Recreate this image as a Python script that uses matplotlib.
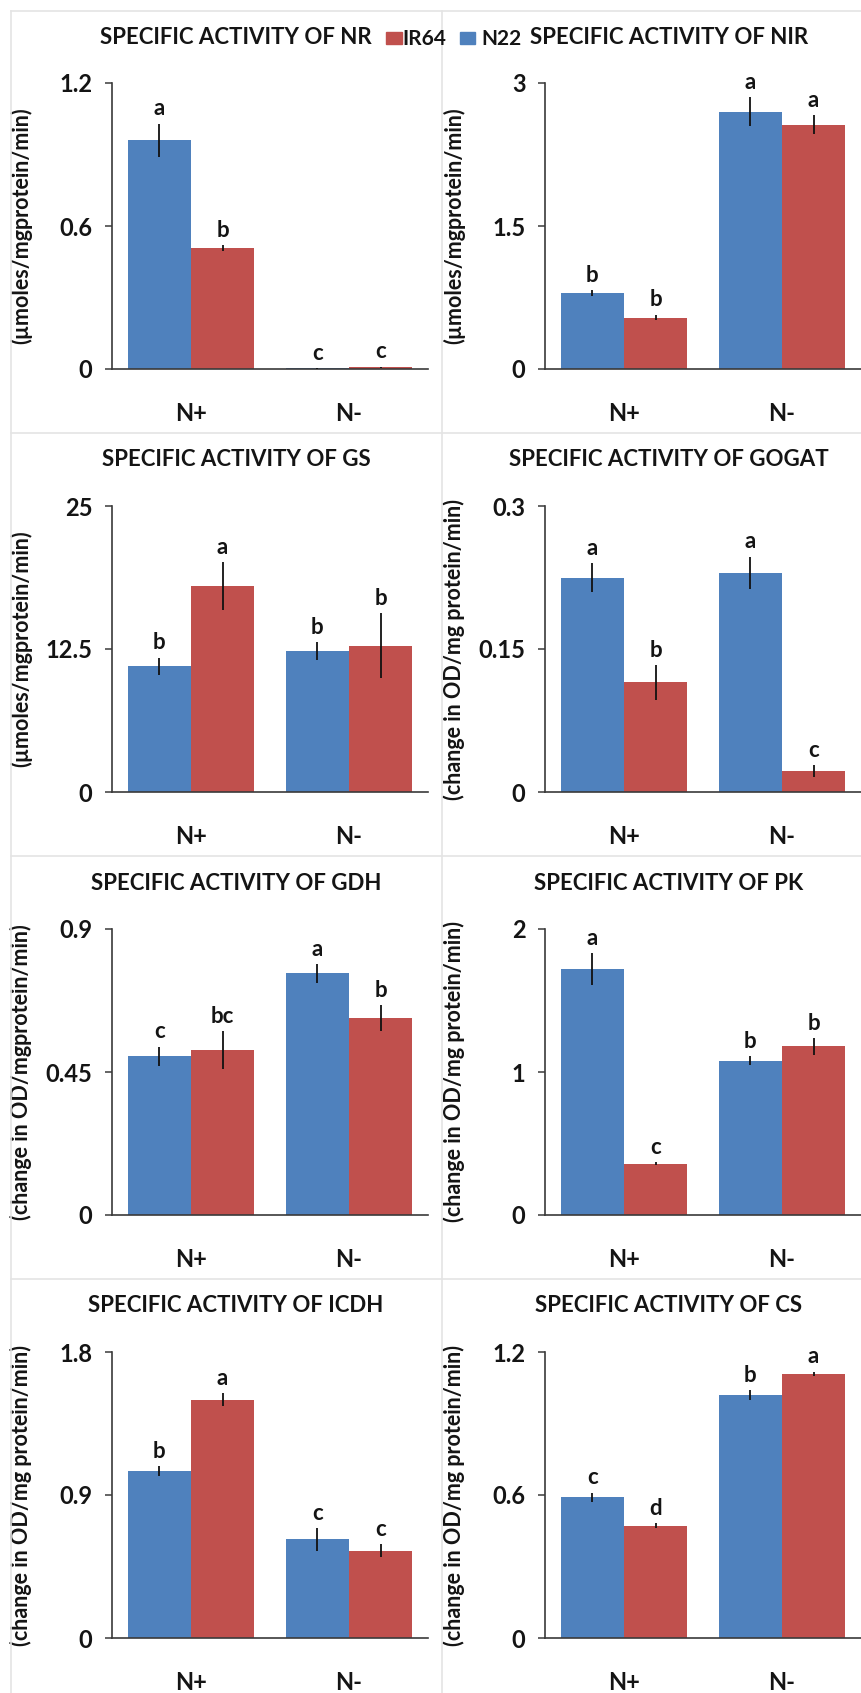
import numpy as np
import matplotlib.pyplot as plt
from matplotlib.lines import Line2D
from matplotlib.patches import Rectangle

plt.rcParams['font.family'] = ['Lato', 'DejaVu Sans']
plt.rcParams['font.weight'] = 'bold'

W, H = 862, 1693

categories = ['N+', 'N-']

titles = ['SPECIFIC ACTIVITY OF NR', 'SPECIFIC ACTIVITY OF NIR',
          'SPECIFIC ACTIVITY OF GS', 'SPECIFIC ACTIVITY OF GOGAT',
          'SPECIFIC ACTIVITY OF GDH', 'SPECIFIC ACTIVITY OF PK',
          'SPECIFIC ACTIVITY OF ICDH', 'SPECIFIC ACTIVITY OF CS']

ylabels = ['(µmoles/mgprotein/min)', '(µmoles/mgprotein/min)',
           '(µmoles/mgprotein/min)', '(change in OD/mg protein/min)',
           '(change in OD/mgprotein/min)', '(change in OD/mg protein/min)',
           '(change in OD/mg protein/min)', '(change in OD/mg protein/min)']

yticks = [[0, 0.6, 1.2], [0, 1.5, 3], [0, 12.5, 25], [0, 0.15, 0.3],
          [0, 0.45, 0.9], [0, 1, 2], [0, 0.9, 1.8], [0, 0.6, 1.2]]
ytick_labels = [['0', '0.6', '1.2'], ['0', '1.5', '3'], ['0', '12.5', '25'],
                ['0', '0.15', '0.3'], ['0', '0.45', '0.9'], ['0', '1', '2'],
                ['0', '0.9', '1.8'], ['0', '0.6', '1.2']]

# N22 (blue) and IR64 (red) means for N+ / N-
n22 = [[0.96, 0.003], [0.80, 2.70], [10.98, 12.31], [0.225, 0.23],
       [0.50, 0.76], [1.72, 1.08], [1.05, 0.62], [0.59, 1.02]]
n22_err = [[0.07, 0.002], [0.03, 0.15], [0.77, 0.77], [0.015, 0.017],
           [0.03, 0.03], [0.11, 0.03], [0.03, 0.07], [0.02, 0.02]]
ir64 = [[0.508, 0.008], [0.54, 2.56], [18.03, 12.8], [0.115, 0.022],
        [0.52, 0.62], [0.36, 1.18], [1.50, 0.55], [0.471, 1.108]]
ir64_err = [[0.013, 0.002], [0.03, 0.10], [2.1, 2.87], [0.018, 0.006],
            [0.06, 0.04], [0.01, 0.06], [0.04, 0.04], [0.01, 0.01]]
n22_letters = [['a', 'c'], ['b', 'a'], ['b', 'b'], ['a', 'a'],
               ['c', 'a'], ['a', 'b'], ['b', 'c'], ['c', 'b']]
ir64_letters = [['b', 'c'], ['b', 'a'], ['a', 'b'], ['b', 'c'],
                ['bc', 'b'], ['c', 'b'], ['a', 'c'], ['d', 'a']]

blue = '#4F81BD'
red = '#C0504D'
axis_col = '#3a3a3a'
txt_col = '#141414'

fig = plt.figure(figsize=(W / 100, H / 100), dpi=100)

# light grey panel frame
grid_col = '#e4e4e4'
for y in [11, 433, 856, 1279]:
    fig.add_artist(Line2D([11 / W, 1], [1 - y / H, 1 - y / H], color=grid_col, lw=1.2))
for x in [11, 442]:
    fig.add_artist(Line2D([x / W, x / W], [0, 1 - 11 / H], color=grid_col, lw=1.2))

x = np.arange(len(categories))
bw = 0.4

for i in range(8):
    r, c = divmod(i, 2)
    left = 112 + 433 * c
    top = 83 + 423 * r
    ax = fig.add_axes([left / W, 1 - (top + 286) / H, 316 / W, 286 / H])

    ax.bar(x - bw / 2, n22[i], bw, color=blue, zorder=2)
    ax.bar(x + bw / 2, ir64[i], bw, color=red, zorder=2)
    ax.errorbar(x - bw / 2, n22[i], yerr=n22_err[i], fmt='none',
                ecolor='#111111', elinewidth=1.3, capsize=0, zorder=3)
    ax.errorbar(x + bw / 2, ir64[i], yerr=ir64_err[i], fmt='none',
                ecolor='#111111', elinewidth=1.3, capsize=0, zorder=3)

    for j in range(len(categories)):
        ax.annotate(n22_letters[i][j], (x[j] - bw / 2, n22[i][j] + n22_err[i][j]),
                    xytext=(0, 3), textcoords='offset points', color=txt_col,
                    ha='center', va='bottom', fontsize=16, fontweight='bold')
        ax.annotate(ir64_letters[i][j], (x[j] + bw / 2, ir64[i][j] + ir64_err[i][j]),
                    xytext=(0, 3), textcoords='offset points', color=txt_col,
                    ha='center', va='bottom', fontsize=16, fontweight='bold')

    ax.set_xlim(-0.5, 1.5)
    ax.set_ylim(0, yticks[i][-1])
    ax.set_yticks(yticks[i])
    ax.set_yticklabels(ytick_labels[i])
    ax.set_xticks(x)
    ax.set_xticklabels(categories)
    ax.tick_params(axis='y', length=5, width=1.1, color=axis_col, pad=9,
                   labelsize=17, labelcolor=txt_col)
    ax.tick_params(axis='x', length=0, pad=24, labelsize=17, labelcolor=txt_col)
    for s in ['top', 'right']:
        ax.spines[s].set_visible(False)
    for s in ['left', 'bottom']:
        ax.spines[s].set_color(axis_col)
        ax.spines[s].set_linewidth(1.2)
    ax.set_ylabel(ylabels[i], fontsize=15.5, fontweight='bold', color=txt_col)
    ax.yaxis.set_label_coords(-80 / 316, 0.5)

    fig.text((236 + 433 * c) / W, 1 - (37 + 423 * r) / H, titles[i], color=txt_col,
             ha='center', va='center', fontsize=16, fontweight='bold')

# legend between the two top titles
fig.add_artist(Rectangle((386 / W, 1 - 44 / H), 16 / W, 12 / H, color=red))
fig.text(402 / W, 1 - 39 / H, 'IR64', ha='left', va='center', fontsize=15,
         fontweight='bold', color=txt_col)
fig.add_artist(Rectangle((460 / W, 1 - 44 / H), 15 / W, 12 / H, color=blue))
fig.text(481 / W, 1 - 39 / H, 'N22', ha='left', va='center', fontsize=15,
         fontweight='bold', color=txt_col)

fig.savefig('out.png', dpi=100)
